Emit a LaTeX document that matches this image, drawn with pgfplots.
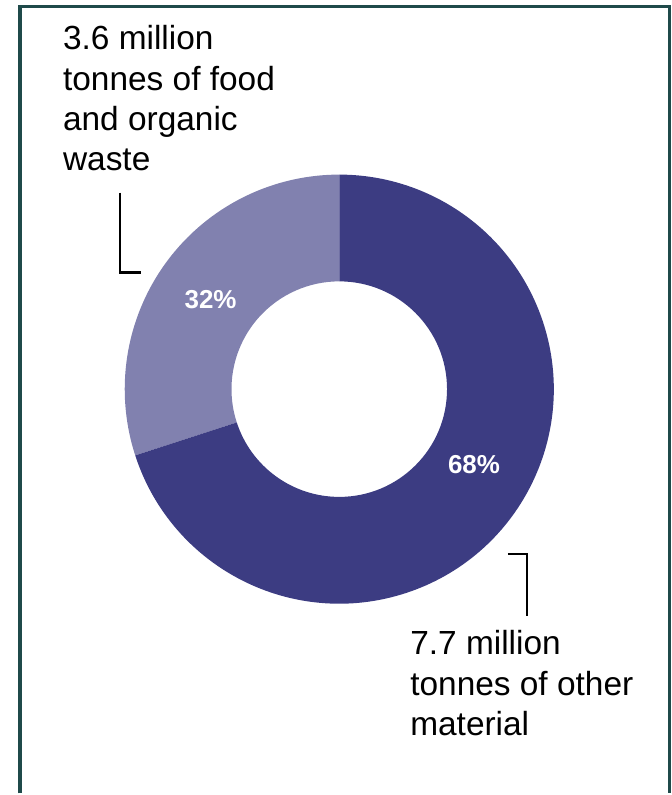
\documentclass[border=0pt]{standalone}
\usepackage{pgfplots}
\pgfplotsset{compat=1.18}
\usepackage{pgfplotstable}
\usepackage{fontspec}
\setmainfont{Liberation Sans}
\definecolor{darkslice}{HTML}{3C3C82}
\definecolor{lightslice}{HTML}{8181AF}
\definecolor{framecol}{HTML}{1F4A4A}

% share = drawn share of the ring, pct = printed label
\pgfplotstableread{
label share pct
food  30 32
other 70 68
}\donutdata
\pgfplotstablegetelem{0}{share}\of\donutdata \edef\shareA{\pgfplotsretval}
\pgfplotstablegetelem{0}{pct}\of\donutdata \edef\pctA{\pgfplotsretval}
\pgfplotstablegetelem{1}{pct}\of\donutdata \edef\pctB{\pgfplotsretval}
\pgfmathsetmacro{\angA}{90+3.6*\shareA}

\begin{document}
\begin{tikzpicture}
\begin{axis}[
  scale only axis, width=673pt, height=795pt,
  xmin=0, xmax=673, ymin=0, ymax=795,
  hide axis, clip=false,
]
\path (axis cs:0,0) rectangle (axis cs:673,795);
% frame
\draw[framecol, line width=3.5pt, line join=miter]
  (axis cs:20,0) -- (axis cs:20,788.5) -- (axis cs:671,788.5) -- (axis cs:671,0);
% donut
\fill[lightslice] ([shift={(90:215)}]axis cs:340,405) arc[start angle=90, end angle=\angA, radius=215]
  -- ([shift={(\angA:108)}]axis cs:340,405) arc[start angle=\angA, end angle=90, radius=108] -- cycle;
\fill[darkslice] ([shift={(\angA:215)}]axis cs:340,405) arc[start angle=\angA, end angle=450, radius=215]
  -- ([shift={(450:108)}]axis cs:340,405) arc[start angle=450, end angle=\angA, radius=108] -- cycle;
% percent labels
\node[anchor=base, text=white, font=\fontsize{26pt}{30pt}\selectfont\bfseries] at (axis cs:211,486) {\pctA\%};
\node[anchor=base, text=white, font=\fontsize{26pt}{30pt}\selectfont\bfseries] at (axis cs:475,320) {\pctB\%};
% leader lines
\draw[black, line width=2.5pt, line join=miter] (axis cs:120.5,602) -- (axis cs:120.5,522) -- (axis cs:141,522);
\draw[black, line width=2.5pt, line join=miter] (axis cs:509,240) -- (axis cs:528,240) -- (axis cs:528,178);
% labels
\begin{scope}[every node/.style={anchor=base west, inner sep=0pt, font=\fontsize{33.5pt}{40pt}\selectfont}]
\node at (axis cs:63,745) {3.6 million};
\node at (axis cs:63,704) {tonnes of food};
\node at (axis cs:63,664) {and organic};
\node at (axis cs:63,624) {waste};
\node at (axis cs:411,139) {7.7 million};
\node at (axis cs:411,98) {tonnes of other};
\node at (axis cs:411,58) {material};
\end{scope}
\end{axis}
\end{tikzpicture}
\end{document}
